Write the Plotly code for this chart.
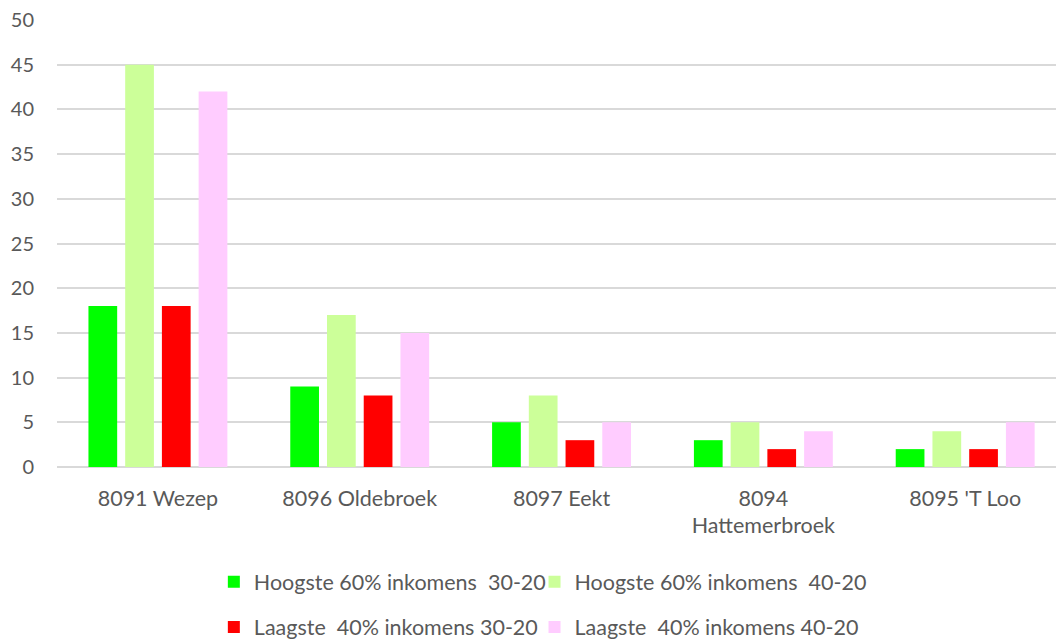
import plotly.graph_objects as go

categories = ["8091 Wezep", "8096 Oldebroek", "8097 Eekt", "8094<br>Hattemerbroek", "8095 'T Loo"]
series_names = [
    "Hoogste 60% inkomens  30-20",
    "Hoogste 60% inkomens  40-20",
    "Laagste  40% inkomens 30-20",
    "Laagste  40% inkomens 40-20",
]
hoog_30_20 = [18, 9, 5, 3, 2]
hoog_40_20 = [45, 17, 8, 5, 4]
laag_30_20 = [18, 8, 3, 2, 2]
laag_40_20 = [42, 15, 5, 4, 5]
y_ticks = [0, 5, 10, 15, 20, 25, 30, 35, 40, 45, 50]

colors = ["#00FF00", "#CCFF99", "#FF0000", "#FFCCFF"]
values = [hoog_30_20, hoog_40_20, laag_30_20, laag_40_20]

FONT = "Lato"
GREY = "#595959"

# one legend box per entry, laid out as a 2x2 grid below the plot
legend_ids = ["legend", "legend2", "legend3", "legend4"]
legend_pos = [(0.157, -0.257), (0.478, -0.257), (0.157, -0.358), (0.478, -0.358)]

fig = go.Figure()
for name, vals, col, lg in zip(series_names, values, colors, legend_ids):
    fig.add_trace(go.Bar(
        x=categories, y=vals, name=name,
        marker=dict(color=col, line=dict(width=0)),
        legend=lg, showlegend=True,
    ))

legend_layout = {}
for lg, (lx, ly) in zip(legend_ids, legend_pos):
    legend_layout[lg] = dict(
        orientation="h", x=lx, y=ly, xanchor="left", yanchor="middle",
        font=dict(family=FONT, size=21.5, color=GREY),
        itemwidth=30, bgcolor="rgba(0,0,0,0)",
    )

fig.update_layout(
    width=1056, height=639,
    showlegend=True,
    margin=dict(l=57, r=0, t=20, b=172, autoexpand=False),
    paper_bgcolor="white", plot_bgcolor="white",
    barmode="group", bargap=0.272, bargroupgap=0.218,
    font=dict(family=FONT, size=18, color=GREY),
    xaxis=dict(
        range=[-0.5, 4.45],
        showgrid=False, showline=False, ticks="",
        tickfont=dict(family=FONT, size=21.5, color=GREY),
        ticklabelstandoff=16,
    ),
    yaxis=dict(
        range=[0, 50], tickvals=y_ticks,
        showgrid=True, gridcolor="#D9D9D9", gridwidth=1.5,
        zeroline=True, zerolinecolor="#D9D9D9", zerolinewidth=1.5,
        showline=False, ticks="",
        tickfont=dict(family=FONT, size=20, color=GREY),
        ticklabelstandoff=22,
    ),
    **legend_layout,
)

fig.write_html("out.html")
